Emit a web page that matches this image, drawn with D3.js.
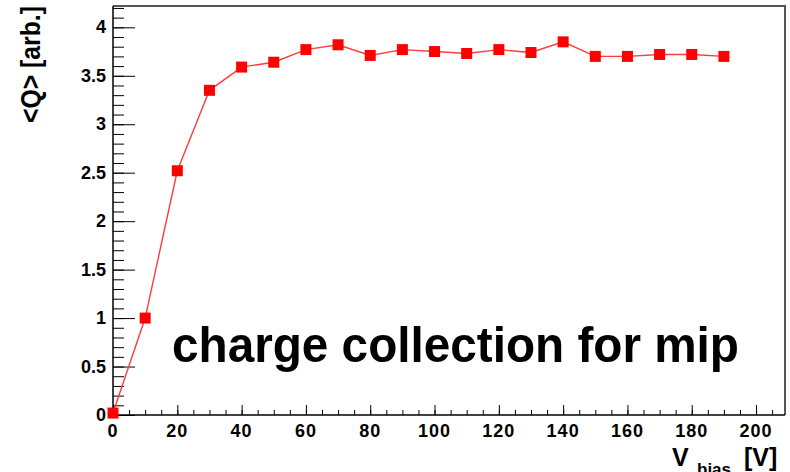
<!DOCTYPE html>
<html lang="en">

<head>
    <meta charset="utf-8">
    <title>Charge collection for mip</title>
    <script src="https://d3js.org/d3.v7.min.js"></script>
    <style>
        body { margin: 0; background: #fff; }
        text { font-family: "Liberation Sans", Arial, Helvetica, sans-serif; font-weight: bold; }
    </style>
</head>

<body>
    <svg width="790" height="472"></svg>

    <script>
        // bias voltage [V] and mean charge <Q> [arb.]
        const vbias = [0, 10, 20, 30, 40, 50, 60, 70, 80, 90, 100, 110, 120, 130, 140, 150, 160, 170, 180, 190];
        const charge = [0.02, 1.0, 2.52, 3.35, 3.59, 3.64, 3.77, 3.82, 3.71, 3.77, 3.75, 3.73, 3.77, 3.74, 3.85, 3.70, 3.70, 3.72, 3.72, 3.70];

        const xTicks = [0, 20, 40, 60, 80, 100, 120, 140, 160, 180, 200];
        const yTicks = [0, 0.5, 1, 1.5, 2, 2.5, 3, 3.5, 4];

        const svg = d3.select("svg");

        const x = d3.scaleLinear().domain([0, 209]).range([113, 785]);
        const y = d3.scaleLinear().domain([0, 4.22]).range([415, 6]);

        // frame (top and right)
        svg.append("path")
            .attr("d", `M${x(0)},${y(4.22)}H${x(209)}V${y(0)}`)
            .attr("fill", "none")
            .attr("stroke", "#555")
            .attr("stroke-width", 2);

        // y axis: major ticks every 0.5, minor every 0.1, pointing inward
        const yAxis = svg.append("g").attr("transform", `translate(${x(0)},0)`);
        yAxis.append("g")
            .call(d3.axisRight(y).tickValues(d3.range(0, 4.21, 0.1)).tickSize(11).tickFormat(""))
            .call(g => g.select(".domain").remove());
        yAxis.append("g")
            .call(d3.axisRight(y).tickValues(yTicks).tickSize(22).tickFormat(""))
            .call(g => g.select(".domain").remove());
        yAxis.selectAll("line").attr("stroke", "#000");
        yAxis.selectAll(".tick").data(yTicks, function(d) { return d; });

        svg.append("g")
            .selectAll("text")
            .data(yTicks)
            .join("text")
            .attr("x", x(0) - 7)
            .attr("y", d => y(d) + 6)
            .attr("text-anchor", "end")
            .attr("font-size", 18)
            .text(d => d3.format("")(d));

        // x axis: major every 20, minor every 5, pointing inward
        const xAxis = svg.append("g").attr("transform", `translate(0,${y(0)})`);
        xAxis.append("g")
            .call(d3.axisTop(x).tickValues(d3.range(0, 209, 5)).tickSize(5).tickFormat(""))
            .call(g => g.select(".domain").remove());
        xAxis.append("g")
            .call(d3.axisTop(x).tickValues(xTicks).tickSize(10).tickFormat(""))
            .call(g => g.select(".domain").remove());
        xAxis.selectAll("line").attr("stroke", "#000");

        svg.append("g")
            .selectAll("text")
            .data(xTicks)
            .join("text")
            .attr("x", d => x(d))
            .attr("y", 437)
            .attr("text-anchor", "middle")
            .attr("font-size", 18)
            .attr("letter-spacing", 1)
            .text(d => d);

        // axis lines
        svg.append("line")
            .attr("x1", x(0)).attr("x2", x(0))
            .attr("y1", y(0)).attr("y2", y(4.22))
            .attr("stroke", "#000").attr("stroke-width", 1.5);
        svg.append("line")
            .attr("x1", x(0)).attr("x2", x(209))
            .attr("y1", y(0)).attr("y2", y(0))
            .attr("stroke", "#000").attr("stroke-width", 1.5);

        // axis titles
        svg.append("text")
            .attr("transform", `translate(40,${y(4.22)}) rotate(-90)`)
            .attr("text-anchor", "end")
            .attr("font-size", 28)
            .attr("textLength", 117)
            .attr("lengthAdjust", "spacingAndGlyphs")
            .text("<Q> [arb.]");

        const xt = svg.append("text").attr("font-size", 25).attr("y", 466);
        xt.append("tspan").attr("x", 672).text("V");
        xt.append("tspan").attr("x", 697).attr("dy", 9).attr("font-size", 17).text("bias");
        xt.append("tspan").attr("x", 744).attr("dy", -9).text("[V]");

        // data
        const points = vbias.map((v, i) => ({ v: v, q: charge[i] }));

        svg.append("path")
            .datum(points)
            .attr("fill", "none")
            .attr("stroke", "#ff3b3b")
            .attr("stroke-width", 1.4)
            .attr("d", d3.line().x(d => x(d.v)).y(d => y(d.q)));

        svg.append("g")
            .selectAll("rect")
            .data(points)
            .join("rect")
            .attr("x", d => x(d.v) - 5.5)
            .attr("y", d => y(d.q) - 5.5)
            .attr("width", 11)
            .attr("height", 11)
            .attr("fill", "#ff0000");

        // annotation
        svg.append("text")
            .attr("x", 172)
            .attr("y", 362)
            .attr("font-size", 50)
            .attr("textLength", 567)
            .attr("lengthAdjust", "spacingAndGlyphs")
            .text("charge collection for mip");
    </script>
</body>

</html>
